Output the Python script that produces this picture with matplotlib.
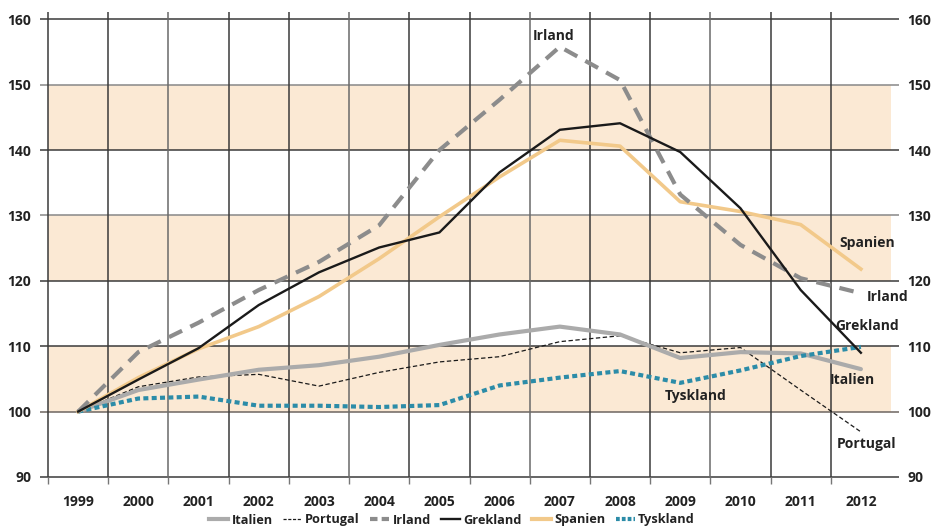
import matplotlib
matplotlib.use("Agg")
import matplotlib.pyplot as plt
from matplotlib.lines import Line2D

years = [1999, 2000, 2001, 2002, 2003, 2004, 2005, 2006, 2007, 2008, 2009, 2010, 2011, 2012]
italien = [100, 103.3, 104.9, 106.4, 107.1, 108.4, 110.2, 111.8, 113.0, 111.8, 108.2, 109.1, 108.9, 106.5]
portugal = [100, 103.8, 105.3, 105.7, 103.9, 106.0, 107.6, 108.4, 110.7, 111.6, 109.0, 109.8, 103.3, 96.9]
irland = [100, 109.1, 113.6, 118.6, 122.9, 128.5, 140.0, 147.7, 155.8, 150.7, 133.2, 125.5, 120.4, 118.1]
grekland = [100, 104.9, 109.7, 116.3, 121.3, 125.1, 127.4, 136.6, 143.1, 144.1, 139.7, 131.1, 118.6, 109.0]
spanien = [100, 105.2, 109.6, 113.0, 117.6, 123.4, 129.8, 135.9, 141.5, 140.6, 132.1, 130.6, 128.6, 121.8]
tyskland = [100, 102.0, 102.3, 100.9, 100.9, 100.7, 101.0, 104.0, 105.2, 106.2, 104.4, 106.3, 108.5, 109.9]
yticks = [90, 100, 110, 120, 130, 140, 150, 160]
bands = [(100, 110), (120, 130), (140, 150)]

FONT = "Open Sans"
plt.rcParams['font.family'] = [FONT, 'DejaVu Sans']

fig = plt.figure(figsize=(9.32, 5.28), dpi=100)
ax = fig.add_axes([48/932, 1-477/528, (891-48)/932, (477-19.3)/528])
ax.set_xlim(-0.5, len(years)-0.5)
ax.set_ylim(90, 160)
for s in ax.spines.values():
    s.set_visible(False)

band_col = '#FBE9D4'
for lo, hi in bands:
    ax.axhspan(lo, hi, color=band_col, zorder=0, lw=0)

# horizontal grid lines (extend as ticks both sides)
ext = 8/843*(len(years))
for v in yticks:
    col = '#888888' if v in (150, 130) else '#3a3a3a'
    if v == 100:
        col = '#6e6660'
    ax.plot([-0.5-ext, len(years)-0.5+ext], [v, v], color=col, lw=1.1,
            clip_on=False, zorder=1, solid_capstyle='butt')

# vertical lines
for i in range(len(years)):
    x = i - 0.5
    col = '#3a3a3a' if i % 3 != 2 else '#6a6a6a'
    ax.plot([x, x], [90, 161.1], color=col, lw=1.1, clip_on=False, zorder=1,
            solid_capstyle='butt')
    ax.plot([x, x], [88.9, 90], color='#777777', lw=1.0, clip_on=False, zorder=1,
            solid_capstyle='butt')

xs = list(range(len(years)))
ax.plot(xs, portugal, color='#1a1a1a', lw=0.9, dashes=(3.5, 2), zorder=3)
ax.plot(xs, italien, color='#ABABAB', lw=3.0, zorder=4, solid_capstyle='round')
ax.plot(xs, tyskland, color='#2C8CA8', lw=3.0, dashes=(1.2, 0.8), zorder=5)
ax.plot(xs, spanien, color='#F2C98A', lw=2.6, zorder=5)
ax.plot(xs, irland, color='#8C8C8C', lw=3.0, dashes=(3.5, 2.2), zorder=6)
ax.plot(xs, grekland, color='#1a1a1a', lw=1.7, zorder=7)

# ticks and labels
ax.set_xticks(xs)
ax.set_xticklabels([str(y) for y in years], fontsize=10, fontweight='bold', color='#222222')
ax.tick_params(axis='x', length=0, pad=13)
ax.set_yticks(yticks)
ax.set_yticklabels([str(v) for v in yticks], fontsize=10, fontweight='bold', color='#222222')
ax.tick_params(axis='y', length=0, pad=12, labelleft=True, labelright=True)

# series labels
lab = dict(fontsize=10, fontweight='bold', color='#222222')
ax.text(7.9, 157.5, 'Irland', ha='center', va='center', **lab)
ax.text(13.1, 125.8, 'Spanien', ha='center', va='center', **lab)
ax.text(13.45, 117.5, 'Irland', ha='center', va='center', **lab)
ax.text(13.1, 113.1, 'Grekland', ha='center', va='center', **lab)
ax.text(12.85, 104.8, 'Italien', ha='center', va='center', **lab)
ax.text(13.1, 95.1, 'Portugal', ha='center', va='center', **lab)
ax.text(10.25, 102.4, 'Tyskland', ha='center', va='center', **lab)

handles = [
    Line2D([], [], color='#ABABAB', lw=3.0),
    Line2D([], [], color='#1a1a1a', lw=0.9, dashes=(2.5, 1.3)),
    Line2D([], [], color='#8C8C8C', lw=3.0, dashes=(1.8, 1.0)),
    Line2D([], [], color='#1a1a1a', lw=1.7),
    Line2D([], [], color='#F2C98A', lw=3.0),
    Line2D([], [], color='#2C8CA8', lw=3.0, dashes=(0.9, 0.5)),
]
names = ['Italien', 'Portugal', 'Irland', 'Grekland', 'Spanien', 'Tyskland']
leg = fig.legend(handles, names, loc='center', bbox_to_anchor=(452/932, 1-520/528), ncol=6,
                 frameon=False, handlelength=1.5, handletextpad=0.25, columnspacing=0.8,
                 prop={'family': FONT, 'weight': 'bold', 'size': 9.2})
for t in leg.get_texts():
    t.set_color('#222222')

fig.savefig('out.png', dpi=100)
